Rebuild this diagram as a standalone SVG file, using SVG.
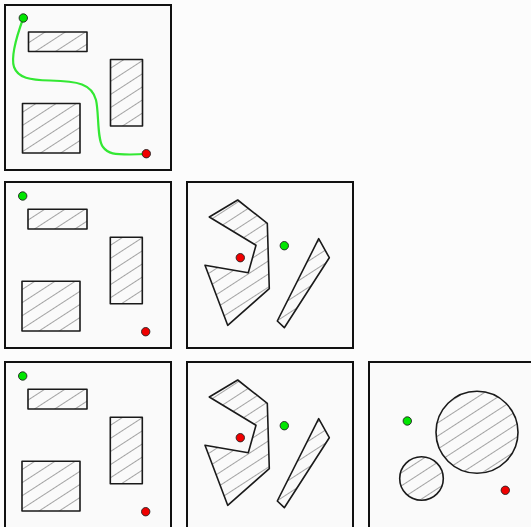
<svg xmlns="http://www.w3.org/2000/svg" width="531" height="527" viewBox="0 0 531 527">
<defs>
<pattern id="hatch" patternUnits="userSpaceOnUse" width="11" height="11" patternTransform="rotate(-33)">
<rect width="11" height="11" fill="#fafafa"/>
<line x1="0" y1="0.5" x2="11" y2="0.5" stroke="#9a9a9a" stroke-width="0.9"/>
</pattern>
</defs>
<style>
.frame{fill:#fafafa;stroke:#111;stroke-width:2}
.obs{fill:url(#hatch);stroke:#1a1a1a;stroke-width:1.6;stroke-linejoin:round}
.start{fill:#00e600;stroke:#222;stroke-width:0.9}
.goal{fill:#f00000;stroke:#222;stroke-width:0.9}
.route{fill:none;stroke:#33e833;stroke-width:2.2;stroke-linecap:round}
</style>
<rect width="531" height="527" fill="#fcfcfc"/>

<g id="panel-1" transform="translate(5,5)">
<rect class="frame" x="0" y="0" width="166" height="165"/>
<rect class="obs" x="23.5" y="27" width="58.5" height="19.5"/>
<rect class="obs" x="105.5" y="54.5" width="32" height="66.5"/>
<rect class="obs" x="17.5" y="98.5" width="57.5" height="49.5"/>
</g>
<g id="connectors" transform="translate(5,5)">
<path class="route" d="M18.3,13 C11,33 6,53 9,62 C13,73 25,75 45,75.5 C73,76 87,79 91,95 C94,107 92,135 98,142 C103,149 110,149.5 125,149.5 L141,149"/>
</g>
<g id="panel-1-points" transform="translate(5,5)">
<circle class="start" cx="18.3" cy="13" r="4.2"/>
<circle class="goal" cx="141.3" cy="148.7" r="4.2"/>
</g>

<g id="panel-2" transform="translate(5,182)">
<rect class="frame" x="0" y="0" width="166" height="166"/>
<rect class="obs" x="23" y="27.3" width="59" height="19.7"/>
<rect class="obs" x="105.3" y="55.3" width="32" height="66.4"/>
<rect class="obs" x="17" y="99.3" width="58" height="49.7"/>
<circle class="start" cx="17.7" cy="14" r="4.2"/>
<circle class="goal" cx="140.7" cy="149.7" r="4.2"/>
</g>

<g id="panel-3" transform="translate(187,182)">
<rect class="frame" x="0" y="0" width="166" height="166"/>
<polygon class="obs" points="22.3,35 50.7,18 80.3,41.3 82.3,106.7 40.7,143.3 18,83.3 61.3,90.7 69,63.3"/>
<polygon class="obs" points="131.7,56.7 142.3,75.7 97.3,145.7 90.3,139"/>
<circle class="goal" cx="53.3" cy="75.7" r="4.2"/>
<circle class="start" cx="97.3" cy="63.7" r="4.2"/>
</g>

<g id="panel-4" transform="translate(5,362)">
<rect class="frame" x="0" y="0" width="166" height="166"/>
<rect class="obs" x="23" y="27.3" width="59" height="19.7"/>
<rect class="obs" x="105.3" y="55.3" width="32" height="66.4"/>
<rect class="obs" x="17" y="99.3" width="58" height="49.7"/>
<circle class="start" cx="17.7" cy="14" r="4.2"/>
<circle class="goal" cx="140.7" cy="149.7" r="4.2"/>
</g>

<g id="panel-5" transform="translate(187,362)">
<rect class="frame" x="0" y="0" width="166" height="166"/>
<polygon class="obs" points="22.3,35 50.7,18 80.3,41.3 82.3,106.7 40.7,143.3 18,83.3 61.3,90.7 69,63.3"/>
<polygon class="obs" points="131.7,56.7 142.3,75.7 97.3,145.7 90.3,139"/>
<circle class="goal" cx="53.3" cy="75.7" r="4.2"/>
<circle class="start" cx="97.3" cy="63.7" r="4.2"/>
</g>

<g id="panel-6" transform="translate(369,362)">
<rect class="frame" x="0" y="0" width="166" height="166"/>
<circle class="obs" cx="108" cy="70.3" r="41"/>
<circle class="obs" cx="52.5" cy="116.5" r="21.8"/>
<circle class="start" cx="38.3" cy="59" r="4.2"/>
<circle class="goal" cx="136.3" cy="128.3" r="4.2"/>
</g>
</svg>
